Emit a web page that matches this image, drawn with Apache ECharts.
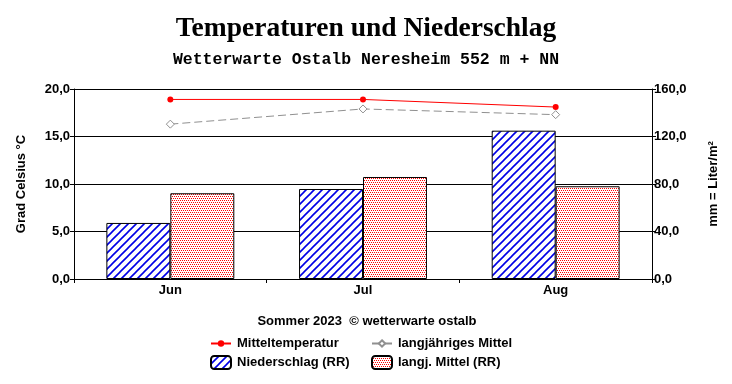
<!DOCTYPE html>
<html>
<head>
<meta charset="utf-8">
<script src="https://cdn.jsdelivr.net/npm/echarts@6/dist/echarts.min.js"></script>
<style>
html,body{margin:0;padding:0;background:#fff;}
#c{width:732px;height:384px;}
</style>
</head>
<body>
<div id="c"></div>
<script>
var categories = ['Jun', 'Jul', 'Aug'];
var mitteltemperatur = [18.9, 18.9, 18.1];
var langjTemp = [16.3, 17.9, 17.3];
var niederschlag = [47.2, 75.8, 124.9];
var langjRR = [72.2, 85.9, 78.1];
var leftTicks = [0, 5, 10, 15, 20];
var rightTicks = [0, 40, 80, 120, 160];

function hatch() {
  var c = document.createElement('canvas');
  c.width = 8; c.height = 8;
  var g = c.getContext('2d');
  g.fillStyle = '#fff'; g.fillRect(0, 0, 8, 8);
  g.strokeStyle = '#0000e6'; g.lineWidth = 1.6;
  g.beginPath();
  g.moveTo(-1, 9); g.lineTo(9, -1);
  g.moveTo(-1, 1); g.lineTo(1, -1);
  g.moveTo(7, 9); g.lineTo(9, 7);
  g.stroke();
  return c;
}
function dots() {
  var c = document.createElement('canvas');
  c.width = 2; c.height = 4;
  var g = c.getContext('2d');
  g.fillStyle = '#fff'; g.fillRect(0, 0, 2, 4);
  g.fillStyle = '#ff0000';
  g.fillRect(0, 0, 1, 1);
  g.fillRect(1, 2, 1, 1);
  return c;
}
var hatchFill = { image: hatch(), repeat: 'repeat' };
var dotFill = { image: dots(), repeat: 'repeat' };

var fmt = function (v) { return v.toFixed(1).replace('.', ','); };
var FS = 13;
var labelFont = { fontFamily: 'Liberation Sans, Arial', fontWeight: 'bold', fontSize: FS, color: '#000' };

var chart = echarts.init(document.getElementById('c'), null, { renderer: 'canvas' });
function legendAt(name, left, top, ih) {
  return {
    data: [name], left: left, top: top, itemWidth: 20, itemHeight: ih, itemGap: 0,
    textStyle: { fontFamily: 'Liberation Sans, Arial', fontWeight: 'bold', fontSize: FS, color: '#000', padding: [0, 0, 0, 1] },
    padding: 0, selectedMode: false
  };
}
chart.setOption({
  animation: false,
  backgroundColor: '#fff',
  title: [
    { text: 'Temperaturen und Niederschlag', left: 'center', top: 10,
      textStyle: { fontFamily: 'Liberation Serif, Times New Roman', fontWeight: 'bold', fontSize: 27.5, color: '#000' } },
    { text: 'Wetterwarte Ostalb Neresheim 552 m + NN', left: 'center', top: 46,
      textStyle: { fontFamily: 'Liberation Mono, Courier New', fontWeight: 'bold', fontSize: 16.5, color: '#000' } },
    { text: 'Sommer 2023  © wetterwarte ostalb', left: 362, textAlign: 'center', top: 310,
      textStyle: labelFont }
  ],
  legend: [
    legendAt('Mitteltemperatur', 210, 337, 8),
    legendAt('langjähriges Mittel', 371, 337, 8),
    legendAt('Niederschlag (RR)', 210, 355, 13),
    legendAt('langj. Mittel (RR)', 371, 355, 13)
  ],
  grid: { left: 74, right: 80, top: 89, bottom: 105, containLabel: false },
  xAxis: {
    type: 'category', data: categories,
    axisLine: { lineStyle: { color: '#000', width: 1 } },
    axisTick: { show: true, length: 4, lineStyle: { color: '#000' } },
    axisLabel: Object.assign({ margin: 5 }, labelFont)
  },
  yAxis: [
    { type: 'value', min: 0, max: 20, interval: 5, position: 'left',
      name: 'Grad Celsius °C', nameLocation: 'middle', nameGap: 46, nameRotate: 90,
      nameTextStyle: labelFont,
      axisLine: { show: true, lineStyle: { color: '#000' } },
      axisTick: { show: true, length: 4, lineStyle: { color: '#000' } },
      splitLine: { show: true, lineStyle: { color: '#000', width: 1 } },
      axisLabel: Object.assign({ margin: 4, formatter: fmt }, labelFont) },
    { type: 'value', min: 0, max: 160, interval: 40, position: 'right',
      name: 'mm = Liter/m²', nameLocation: 'middle', nameGap: 55, nameRotate: 90,
      nameTextStyle: labelFont,
      axisLine: { show: true, lineStyle: { color: '#000' } },
      axisTick: { show: true, length: 4, lineStyle: { color: '#000' } },
      splitLine: { show: false },
      axisLabel: Object.assign({ margin: 2, formatter: fmt }, labelFont) }
  ],
  series: [
    { name: 'Niederschlag (RR)', type: 'bar', yAxisIndex: 1, data: niederschlag,
      barGap: '0%', barCategoryGap: '33.6%',
      itemStyle: { color: hatchFill, borderColor: '#000', borderWidth: 1 } },
    { name: 'langj. Mittel (RR)', type: 'bar', yAxisIndex: 1, data: langjRR,
      itemStyle: { color: dotFill, borderColor: '#000', borderWidth: 1 } },
    { name: 'Mitteltemperatur', type: 'line', yAxisIndex: 0, data: mitteltemperatur,
      symbol: 'circle', symbolSize: 6, z: 5,
      lineStyle: { color: '#ff0000', width: 1 }, itemStyle: { color: '#ff0000' } },
    { name: 'langjähriges Mittel', type: 'line', yAxisIndex: 0, data: langjTemp,
      symbol: 'diamond', symbolSize: 8, z: 5,
      lineStyle: { color: '#909090', width: 1, type: [8, 4] },
      itemStyle: { color: '#fff', borderColor: '#909090', borderWidth: 1 } }
  ]
});
</script>
</body>
</html>
